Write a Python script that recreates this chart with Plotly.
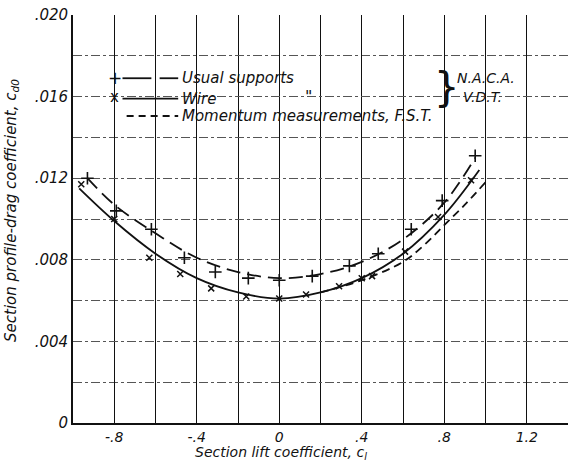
"""
Section profile-drag coefficient vs section lift coefficient — Plotly chart.
"""

import plotly.graph_objects as go

# Usual supports (N.A.C.A. V.D.T.) — test points
usual_cl = [-0.93, -0.79, -0.62, -0.46, -0.31, -0.15, 0.0, 0.16, 0.34, 0.48, 0.64, 0.79, 0.95]
usual_cd = [0.0120, 0.0104, 0.0095, 0.0081, 0.0074, 0.0071, 0.0070, 0.0072, 0.0077, 0.0083, 0.0095, 0.0109, 0.0131]
# faired curve for usual supports
usual_fit_cl = [-0.93, -0.8, -0.6, -0.4, -0.2, 0.0, 0.2, 0.4, 0.6, 0.8, 0.95]
usual_fit_cd = [0.0120, 0.0107, 0.0093, 0.0081, 0.0074, 0.0071, 0.0073, 0.0079, 0.0090, 0.0108, 0.0130]

# Wire supports (N.A.C.A. V.D.T.) — test points
wire_cl = [-0.96, -0.80, -0.63, -0.48, -0.33, -0.16, 0.0, 0.13, 0.29, 0.40, 0.45, 0.61, 0.77, 0.93]
wire_cd = [0.0117, 0.0100, 0.0081, 0.0073, 0.0066, 0.0062, 0.0061, 0.0063, 0.0067, 0.0071, 0.0072, 0.0084, 0.0101, 0.0119]
wire_fit_cl = [-0.97, -0.8, -0.6, -0.4, -0.2, 0.0, 0.2, 0.4, 0.6, 0.8, 0.97]
wire_fit_cd = [0.0115, 0.0099, 0.0083, 0.0071, 0.0064, 0.0061, 0.0064, 0.0071, 0.0083, 0.0102, 0.0124]

# Momentum measurements (F.S.T.) — faired curve only
mom_cl = [0.2, 0.4, 0.6, 0.7, 0.8, 0.9, 1.0]
mom_cd = [0.0064, 0.0070, 0.0079, 0.0087, 0.0097, 0.0107, 0.0118]

x_ticks = [-0.8, -0.4, 0.0, 0.4, 0.8, 1.2]
x_tick_text = ["-.8", "-.4", "0", ".4", ".8", "1.2"]
y_ticks = [0.0, 0.004, 0.008, 0.012, 0.016, 0.020]
y_tick_text = ["0", ".004", ".008", ".012", ".016", ".020"]

FONT = "DejaVu Sans"
INK = "#111111"

fig = go.Figure()

fig.add_trace(go.Scatter(x=usual_fit_cl, y=usual_fit_cd, mode="lines", line_shape="spline",
                         line=dict(color=INK, width=1.8, dash="14px,7px")))
fig.add_trace(go.Scatter(x=usual_cl, y=usual_cd, mode="markers",
                         marker=dict(symbol="cross-thin", size=9, line=dict(color=INK, width=1.6))))
fig.add_trace(go.Scatter(x=wire_fit_cl, y=wire_fit_cd, mode="lines", line_shape="spline",
                         line=dict(color=INK, width=1.8)))
fig.add_trace(go.Scatter(x=wire_cl, y=wire_cd, mode="markers",
                         marker=dict(symbol="x-thin", size=6, line=dict(color=INK, width=1.5))))
fig.add_trace(go.Scatter(x=mom_cl, y=mom_cd, mode="lines", line_shape="spline",
                         line=dict(color=INK, width=1.8, dash="8px,5px")))

# legend drawn by hand, like the original plate
shapes = [
    dict(type="line", xref="x", yref="y", x0=-0.76, x1=-0.62, y0=0.0169, y1=0.0169, line=dict(color=INK, width=1.8)),
    dict(type="line", xref="x", yref="y", x0=-0.58, x1=-0.49, y0=0.0169, y1=0.0169, line=dict(color=INK, width=1.8)),
    dict(type="line", xref="x", yref="y", x0=-0.76, x1=-0.49, y0=0.0159, y1=0.0159, line=dict(color=INK, width=1.8)),
    dict(type="line", xref="x", yref="y", x0=-0.74, x1=-0.49, y0=0.01505, y1=0.01505,
         line=dict(color=INK, width=1.8, dash="7px,5px")),
]
annots = [
    dict(x=-0.795, y=0.0169, text="+", font=dict(size=17, style="normal")),
    dict(x=-0.80, y=0.0160, text="x", font=dict(size=15, style="normal")),
    dict(x=-0.48, y=0.0169, text="Usual supports", xanchor="left"),
    dict(x=-0.48, y=0.0159, text="Wire", xanchor="left"),
    dict(x=0.14, y=0.0160, text="\"", xanchor="center", font=dict(size=16)),
    dict(x=-0.48, y=0.01505, text="Momentum measurements, F.S.T.", xanchor="left"),
    dict(x=0.81, y=0.01645, text="}", xanchor="center", font=dict(size=40, style="normal")),
    dict(x=0.85, y=0.0169, text="N.A.C.A.", xanchor="left", font=dict(size=14)),
    dict(x=0.88, y=0.0160, text="V.D.T.", xanchor="left", font=dict(size=14)),
]
for a in annots:
    a.setdefault("xanchor", "center")
    f = dict(family=FONT, size=15, color=INK, style="italic")
    f.update(a.get("font", {}))
    a["font"] = f
    a.update(xref="x", yref="y", showarrow=False, yanchor="middle")

# axis titles as paper annotations so they sit where the plate has them
annots.append(dict(xref="paper", yref="paper", x=0.42, y=-0.074, showarrow=False,
                   text="Section lift coefficient, c<sub>l</sub>", xanchor="center", yanchor="middle",
                   font=dict(family=FONT, size=14, color=INK, style="italic")))
annots.append(dict(xref="paper", yref="paper", x=-0.123, y=0.52, showarrow=False, textangle=-90,
                   text="Section profile-drag coefficient, c<sub>d0</sub>", xanchor="center", yanchor="middle",
                   font=dict(family=FONT, size=15, color=INK, style="italic")))

fig.update_layout(
    width=568,
    height=465,
    margin=dict(l=73, r=0, t=15, b=42, autoexpand=False),
    paper_bgcolor="white",
    plot_bgcolor="white",
    showlegend=False,
    font=dict(family=FONT, color=INK),
    shapes=shapes,
    annotations=annots,
)
fig.update_xaxes(
    range=[-1.0, 1.4],
    tickvals=x_ticks,
    ticktext=x_tick_text,
    tickfont=dict(size=14, style="italic"),
    ticks="",
    automargin=False,
    showgrid=True,
    gridcolor=INK,
    gridwidth=1.3,
    minor=dict(showgrid=True, gridcolor=INK, gridwidth=1.3, dtick=0.2, tick0=0),
    showline=True,
    linecolor=INK,
    linewidth=1.8,
    zeroline=False,
)
fig.update_yaxes(
    range=[0, 0.020],
    tickvals=y_ticks,
    ticktext=y_tick_text,
    tickfont=dict(size=15, style="italic"),
    ticks="",
    automargin=False,
    showgrid=True,
    gridcolor="#555555",
    gridwidth=1,
    griddash="dashdot",
    minor=dict(showgrid=True, gridcolor="#555555", gridwidth=1, griddash="dashdot", dtick=0.002, tick0=0),
    showline=True,
    linecolor=INK,
    linewidth=1.8,
    zeroline=False,
)

# drop the browser's default body margin so the figure sits at the page corner
fig.write_html("out.html", config={"displayModeBar": False},
               post_script="document.body.style.margin='0';")
